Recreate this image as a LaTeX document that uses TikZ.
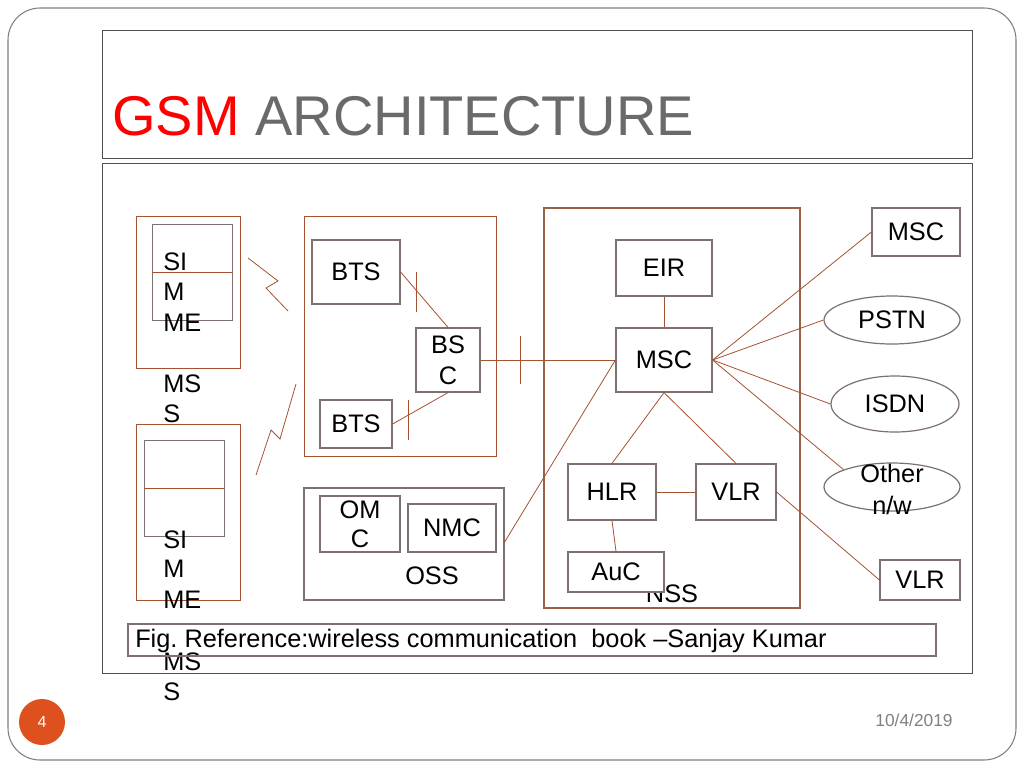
\documentclass[tikz,border=0pt]{standalone}
\usepackage{fontspec}
\setmainfont{Liberation Sans}
\usetikzlibrary{shapes.geometric}
\definecolor{brn}{RGB}{165,82,50}
\definecolor{gbox}{RGB}{125,112,112}
\definecolor{dk}{RGB}{80,80,80}
\frenchspacing
\begin{document}
\begin{tikzpicture}[x=0.75pt,y=-0.75pt,
  box/.style={draw=gbox,line width=0.9pt,fill=white,inner sep=0pt,font=\fontsize{19}{22}\selectfont,align=center},
  el/.style={ellipse,draw=gbox,line width=0.9pt,inner sep=0pt,font=\fontsize{19}{22}\selectfont,align=center},
  ln/.style={draw=brn,line width=0.6pt},
  txt/.style={font=\fontsize{19}{22}\selectfont,anchor=west,inner sep=0pt}]
\useasboundingbox (0,0) rectangle (1024,768);
\fill[white] (0,0) rectangle (1024,768);
% slide frame
\draw[gray,line width=0.8pt,rounded corners=24pt] (8,8) rectangle (1016,760);
\draw[dk,line width=0.7pt] (102,30) rectangle (972,158);
\node[anchor=base west,inner sep=0pt,font=\fontsize{42}{48}\selectfont] (title) at (112,135) {\textcolor{red}{GSM} \textcolor{dk!85}{ARCHITECTURE}};
\draw[dk,line width=0.7pt] (102,163) rectangle (972,673);
% mobile stations
\draw[brn,line width=0.7pt] (136,216) rectangle (240,368);
\draw[gbox,line width=0.7pt] (152,224) rectangle (232,320);
\draw[brn,line width=0.7pt] (152,272) -- (232,272);
\draw[brn,line width=0.7pt] (136,424) rectangle (240,600);
\draw[gbox,line width=0.7pt] (144,440) rectangle (224,536);
\draw[brn,line width=0.7pt] (144,488) -- (224,488);
\node[txt] (si1) at (163,262) {SI};
\node[txt] (m1) at (163,292) {M};
\node[txt] (me1) at (163,323) {ME};
\node[txt] (ms1) at (163,384) {MS};
\node[txt] (s1) at (163,414) {S};
\node[txt] (si2) at (163,540) {SI};
\node[txt] (m2) at (163,569) {M};
\node[txt] (me2) at (163,600) {ME};
\node[txt] (ms2) at (163,662) {MS};
\node[txt] (s2) at (163,692) {S};
% radio links
\draw[ln] (248,258) -- (278,281) -- (266,288) -- (288,311);
\draw[ln] (296,384) -- (280,439) -- (271,430) -- (256,475);
% BSS
\draw[brn,line width=0.7pt] (304,216) rectangle (496,456);
\node[box,minimum width=88pt*0.75,minimum height=64pt*0.75] (bts1) at (356,272) {BTS};
\node[box,minimum width=72pt*0.75,minimum height=48pt*0.75] (bts2) at (356,424) {BTS};
\node[box,minimum width=64pt*0.75,minimum height=64pt*0.75,font=\fontsize{19}{23}\selectfont] (bsc) at (448,360) {BS\\C};
\draw[ln] (bts1.east) -- (bsc.north);
\draw[ln] (bts2.east) -- (bsc.south);
\draw[ln] (416,272) -- (416,312);
\draw[ln] (408,400) -- (408,440);
% OSS
\draw[gbox,line width=0.9pt] (304,488) rectangle (504,600);
\coordinate (oss) at (504,543);
\node[box,minimum width=80pt*0.75,minimum height=56pt*0.75,font=\fontsize{19}{22}\selectfont] (omc) at (360,524) {OM\\C};
\node[box,minimum width=88pt*0.75,minimum height=48pt*0.75] (nmc) at (452,528) {NMC};
\node[font=\fontsize{19}{22}\selectfont] (osslbl) at (432,576) {OSS};
% NSS
\draw[brn!70!gray,line width=0.9pt] (544,208) rectangle (800,608);
\node[font=\fontsize{19}{22}\selectfont] (nss) at (672,594) {NSS};
\node[box,minimum width=96pt*0.75,minimum height=56pt*0.75] (eir) at (664,268) {EIR};
\node[box,minimum width=96pt*0.75,minimum height=64pt*0.75] (msc) at (664,360) {MSC};
\node[box,minimum width=88pt*0.75,minimum height=56pt*0.75] (hlr) at (612,492) {HLR};
\node[box,minimum width=80pt*0.75,minimum height=56pt*0.75] (vlr) at (736,492) {VLR};
\node[box,minimum width=96pt*0.75,minimum height=40pt*0.75] (auc) at (616,572) {AuC};
\draw[ln] (bsc.east) -- (msc.west);
\draw[ln] (520,336) -- (520,384);
\draw[ln] (oss) -- (msc.west);
\draw[ln] (eir) -- (msc);
\draw[ln] (msc.south) -- (hlr.north);
\draw[ln] (msc.south) -- (vlr.north);
\draw[ln] (hlr) -- (vlr);
\draw[ln] (hlr.south) -- (auc.north);
% external
\node[box,minimum width=88pt*0.75,minimum height=48pt*0.75] (emsc) at (916,232) {MSC};
\node[el,minimum width=136pt*0.75,minimum height=48pt*0.75] (pstn) at (892,320) {PSTN};
\node[el,minimum width=128pt*0.75,minimum height=56pt*0.75] (isdn) at (895,404) {ISDN};
\node[el,minimum width=136pt*0.75,minimum height=48pt*0.75,fill=none] (oth) at (892,487) {};
\node[font=\fontsize{19}{24}\selectfont,align=center] (othl) at (892,489) {Other\\n/w};
\node[box,minimum width=80pt*0.75,minimum height=40pt*0.75] (evlr) at (920,580) {VLR};
\draw[ln] (msc.east) -- (emsc.west);
\draw[ln] (msc.east) -- (pstn.west);
\draw[ln] (msc.east) -- (isdn.west);
\draw[ln] (msc.east) -- (oth.north west);
\draw[ln] (vlr.east) -- (evlr.west);
% caption
\draw[gbox,line width=0.9pt] (128,624) rectangle (936,656);
\node[anchor=west,inner sep=0pt,font=\fontsize{19}{22}\selectfont] (cap) at (135,641) {Fig. Reference:wireless communication\ \ book --Sanjay Kumar};
% footer
\node[circle,fill={rgb,255:red,222;green,80;blue,30},minimum size=46pt*0.75,inner sep=0pt,text=white,font=\fontsize{12}{14}\selectfont] (pg) at (42,722) {4};
\node[text=gray,font=\fontsize{13}{15}\selectfont] (dt) at (914,720) {10/4/2019};
\end{tikzpicture}
\end{document}
